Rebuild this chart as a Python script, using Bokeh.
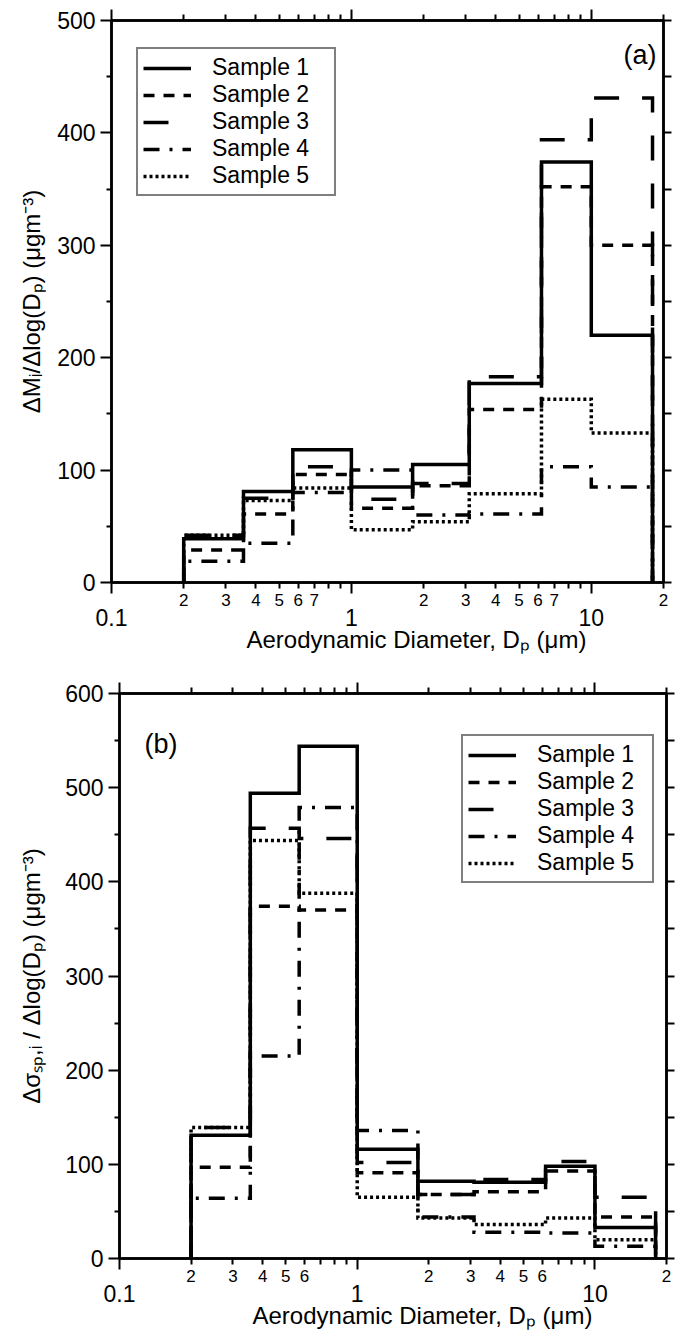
import math
from bokeh.plotting import figure
from bokeh.models import (FixedTicker, LogAxis, LinearAxis, Label, Legend, LegendItem,
                          CustomJSTickFormatter, Range1d, Title)
from bokeh.embed import file_html
from bokeh.resources import INLINE

FONT = "Liberation Sans"

# ---------------- data ----------------
bin_edges = [0.2, 0.355, 0.57, 1.0, 1.8, 3.1, 6.2, 10.0, 18.0]
sample_names = ["Sample 1", "Sample 2", "Sample 3", "Sample 4", "Sample 5"]

# panel (a): mass size distribution dM/dlogDp (ug m-3)
mass_s1 = [39, 81, 118, 85, 105, 177, 374, 220]
mass_s2 = [29, 61, 96, 66, 86, 154, 352, 300]
mass_s3 = [42, 75, 103, 74, 88, 183, 394, 431]
mass_s4 = [19, 35, 80, 100, 60, 61, 103, 85]
mass_s5 = [42, 73, 84, 47, 54, 79, 163, 133]

# panel (b): scattering size distribution
scat_s1 = [131, 494, 544, 116, 82, 81, 98, 33]
scat_s2 = [97, 374, 370, 91, 68, 71, 93, 44]
scat_s3 = [139, 457, 446, 102, 68, 84, 103, 65]
scat_s4 = [64, 215, 479, 136, 44, 28, 27, 13]
scat_s5 = [139, 444, 388, 65, 43, 36, 43, 20]

x_major_ticks = [0.1, 1, 10]
x_minor_ticks = [0.2, 0.3, 0.4, 0.5, 0.6, 0.7, 0.8, 0.9,
                 2, 3, 4, 5, 6, 7, 8, 9, 20]
small_labels_a = [0.2, 0.3, 0.4, 0.5, 0.6, 0.7, 2, 3, 4, 5, 6, 7, 20]
small_labels_b = [0.2, 0.3, 0.4, 0.5, 0.6, 2, 3, 4, 5, 6, 20]

x_title = "Aerodynamic Diameter, Dₚ (μm)"
y_title_a = "ΔMᵢ/Δlog(Dₚ) (μgm⁻³)"
y_title_b = "Δσₛₚ,ᵢ / Δlog(Dₚ) (μgm⁻³)"

# ---------------- styles ----------------
DASHES = ["solid", "11 9", "25 23", "16 10 3 10", "3 3"]
BLANK = "return '';"


def make_panel(values, ymax, width, height, bl, br, bt, bb, small_labels,
               y_title, y_title_standoff, x_title_offset, decade_standoff,
               legend_loc, legend_label_width):
    p = figure(width=width, height=height, x_axis_type="log",
               x_range=Range1d(0.1, 20), y_range=Range1d(0, ymax),
               output_backend="svg", toolbar_location=None,
               min_border_left=bl, min_border_right=br, min_border_top=bt,
               min_border_bottom=bb)
    p.grid.visible = False
    p.outline_line_color = "black"
    p.outline_line_width = 2.5
    p.background_fill_color = "white"
    p.border_fill_color = "white"

    # bottom axis A: ticks only (long decade ticks, short minor ticks)
    xa = p.xaxis[0]
    xa.ticker = FixedTicker(ticks=x_major_ticks, minor_ticks=x_minor_ticks)
    xa.formatter = CustomJSTickFormatter(code=BLANK)
    xa.major_label_text_font_size = "0px"
    xa.major_label_standoff = 0
    xa.major_tick_out = 11
    xa.major_tick_in = 0
    xa.minor_tick_out = 6
    xa.minor_tick_in = 0
    xa.axis_line_width = 2.5
    xa.axis_line_color = "black"
    xa.major_tick_line_width = 2
    xa.minor_tick_line_width = 2

    # bottom axis B: small digit labels of the minor ticks
    xb = LogAxis(ticker=FixedTicker(ticks=small_labels),
                 formatter=CustomJSTickFormatter(
                     code="return String(Math.round(tick / Math.pow(10, Math.floor(Math.log10(tick) + 1e-9))));"),
                 axis_line_color=None, major_tick_line_color=None, minor_tick_line_color=None,
                 major_tick_out=0, major_tick_in=0, minor_tick_out=0, minor_tick_in=0,
                 major_label_standoff=0, major_label_text_font=FONT,
                 major_label_text_font_size="17px", major_label_text_color="black")
    p.add_layout(xb, "below")

    # bottom axis C: decade labels
    xc = LogAxis(ticker=FixedTicker(ticks=x_major_ticks),
                 formatter=CustomJSTickFormatter(
                     code="return tick < 1 ? tick.toFixed(1) : tick.toFixed(0);"),
                 axis_line_color=None, major_tick_line_color=None, minor_tick_line_color=None,
                 major_tick_out=0, major_tick_in=0, minor_tick_out=0, minor_tick_in=0,
                 major_label_standoff=decade_standoff, major_label_text_font=FONT,
                 major_label_text_font_size="23px", major_label_text_color="black")
    p.add_layout(xc, "below")

    # x title
    p.add_layout(Title(text=x_title, align="left", offset=x_title_offset, standoff=-10,
                       text_font=FONT, text_font_size="24px", text_font_style="normal",
                       text_color="black"), "below")

    # left axis
    ya = p.yaxis[0]
    ya.ticker = FixedTicker(ticks=list(range(0, ymax + 1, 100)),
                            minor_ticks=list(range(50, ymax, 100)))
    ya.major_tick_out = 11
    ya.major_tick_in = 0
    ya.minor_tick_out = 5
    ya.minor_tick_in = 0
    ya.axis_line_width = 2.5
    ya.axis_line_color = "black"
    ya.major_tick_line_width = 2
    ya.minor_tick_line_width = 2
    ya.major_label_text_font = FONT
    ya.major_label_text_font_size = "23px"
    ya.major_label_text_color = "black"
    ya.major_label_standoff = 5
    ya.axis_label = y_title
    ya.axis_label_text_font = FONT
    ya.axis_label_text_font_size = "24px"
    ya.axis_label_text_font_style = "normal"
    ya.axis_label_text_color = "black"
    ya.axis_label_standoff = y_title_standoff

    # top and right axes: ticks only
    top = LogAxis(ticker=FixedTicker(ticks=x_major_ticks, minor_ticks=x_minor_ticks),
                  formatter=CustomJSTickFormatter(code=BLANK), major_tick_out=11, major_tick_in=0,
                  minor_tick_out=6, minor_tick_in=0, axis_line_width=2.5,
                  major_tick_line_width=2, minor_tick_line_width=2,
                  major_label_standoff=0, major_label_text_font_size="0px")
    p.add_layout(top, "above")
    right = LinearAxis(ticker=FixedTicker(ticks=list(range(0, ymax + 1, 50))),
                       formatter=CustomJSTickFormatter(code=BLANK),
                       major_tick_out=8, major_tick_in=0, minor_tick_out=0, minor_tick_in=0,
                       axis_line_width=2.5, major_tick_line_width=2,
                       major_label_standoff=0, major_label_text_font_size="0px")
    p.add_layout(right, "right")

    # histograms as step lines
    items = []
    for name, vals, dash in zip(sample_names, values, DASHES):
        xs = [bin_edges[0]] + bin_edges
        ys = [0] + list(vals) + [0]
        r = p.step(x=xs, y=ys, mode="after", line_color="black", line_width=3.5,
                   line_dash=dash, line_join="miter")
        items.append(LegendItem(label=name, renderers=[r]))

    leg = Legend(items=items, location=legend_loc, border_line_color="black",
                 border_line_width=2.5, padding=5, spacing=0, margin=0,
                 glyph_width=48, glyph_height=20, label_height=20,
                 label_standoff=21, label_width=legend_label_width,
                 label_text_font=FONT, label_text_font_size="23px",
                 label_text_color="black",
                 background_fill_color="white", background_fill_alpha=1.0)
    p.add_layout(leg, "center")
    return p


# ---------------- panel (a) ----------------
pa = make_panel([mass_s1, mass_s2, mass_s3, mass_s4, mass_s5], 500,
                675, 682, 111, 12, 20, 100, small_labels_a,
                y_title_a, 9, 135, 0, (25, 386), 117)
pa.add_layout(Label(x=545, y=528, x_units="screen", y_units="screen", text="(a)",
                    text_align="right", text_baseline="alphabetic", text_font=FONT,
                    text_font_size="27px", text_color="black"))

# ---------------- panel (b) ----------------
pb = make_panel([scat_s1, scat_s2, scat_s3, scat_s4, scat_s5], 600,
                675, 648, 119, 9, 11, 72, small_labels_b,
                y_title_b, 17, 133, 0, (342, 375), 110)
pb.add_layout(Label(x=25, y=515, x_units="screen", y_units="screen", text="(b)",
                    text_align="left", text_baseline="alphabetic", text_font=FONT,
                    text_font_size="27px", text_color="black"))

open("out.html", "w").write(file_html([pa, pb], INLINE, title="Size distributions"))
